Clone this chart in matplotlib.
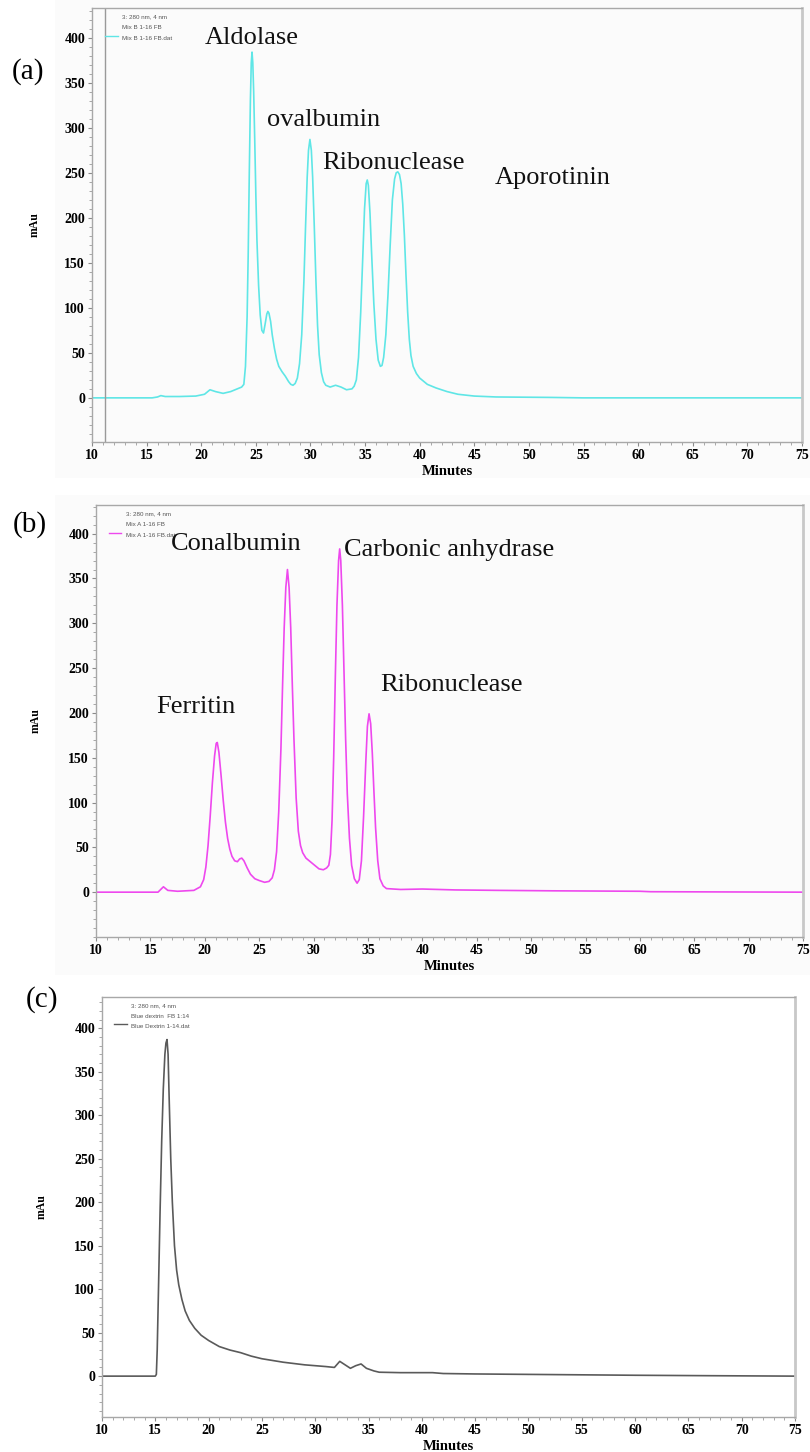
import matplotlib
matplotlib.use("Agg")
import matplotlib.pyplot as plt
from matplotlib.ticker import MultipleLocator
from matplotlib.patches import Rectangle

# ── Chromatogram traces (minutes, mAU) ────────────────────────────
mix_b_t = [10, 15.5, 16.0, 16.3, 16.7, 18.0, 19.5, 20.3, 20.8, 21.3, 22.0, 22.7,
           23.3, 23.7, 23.9, 24.05, 24.2, 24.3, 24.4, 24.5, 24.58, 24.65, 24.72,
           24.8, 24.9, 25.0, 25.1, 25.25, 25.4, 25.55, 25.7, 25.85, 26.0, 26.1,
           26.2, 26.35, 26.5, 26.7, 26.9, 27.1, 27.4, 27.7, 28.0, 28.2, 28.4,
           28.6, 28.8, 29.0, 29.2, 29.4, 29.55, 29.7, 29.82, 29.95, 30.08, 30.2,
           30.35, 30.5, 30.65, 30.8, 31.0, 31.2, 31.4, 31.8, 32.3, 32.8, 33.3,
           33.8, 34.0, 34.2, 34.4, 34.6, 34.8, 34.95, 35.1, 35.2, 35.3, 35.45,
           35.6, 35.8, 36.0, 36.2, 36.4, 36.55, 36.7, 36.9, 37.1, 37.3, 37.5,
           37.7, 37.85, 38.0, 38.15, 38.3, 38.45, 38.6, 38.75, 38.9, 39.05, 39.2,
           39.4, 39.7, 40.0, 40.7, 41.5, 42.5, 43.5, 45.0, 47.0, 52.0, 55.0, 75.0]
mix_b_mau = [0, 0, 1, 2.5, 1.5, 1.5, 2, 4, 9, 7, 5, 7,
             10, 12, 15, 35, 90, 160, 250, 330, 372, 384, 372,
             340, 285, 225, 175, 125, 92, 75, 72, 82, 93, 96,
             94, 85, 70, 55, 43, 35, 29, 24, 18, 15, 14,
             16, 22, 38, 70, 130, 190, 245, 275, 287, 275, 245,
             190, 130, 80, 48, 28, 18, 14, 12, 14, 12, 9,
             10, 13, 20, 45, 95, 160, 210, 238, 242, 236, 205,
             160, 105, 65, 42, 35, 36, 45, 70, 115, 170, 220,
             243, 250, 251, 248, 238, 215, 180, 135, 95, 65, 47,
             35, 27, 22, 15, 11, 7, 4, 2, 1, 0.5, 0, 0]

mix_a_t = [10, 15.7, 16.2, 16.6, 17.5, 19.0, 19.6, 19.9, 20.1, 20.3, 20.5, 20.7,
           20.9, 21.05, 21.15, 21.3, 21.5, 21.7, 21.9, 22.1, 22.3, 22.5, 22.75,
           23.0, 23.2, 23.4, 23.6, 23.9, 24.2, 24.6, 25.0, 25.5, 25.9, 26.2,
           26.4, 26.6, 26.8, 27.0, 27.15, 27.3, 27.45, 27.6, 27.75, 27.9, 28.05,
           28.2, 28.4, 28.6, 28.8, 29.0, 29.3, 29.7, 30.1, 30.5, 30.9, 31.2,
           31.4, 31.55, 31.7, 31.85, 32.0, 32.15, 32.3, 32.4, 32.5, 32.65, 32.8,
           32.95, 33.1, 33.3, 33.5, 33.75, 34.0, 34.2, 34.4, 34.6, 34.8, 34.95,
           35.1, 35.25, 35.4, 35.55, 35.7, 35.9, 36.1, 36.4, 36.7, 38.0, 40.0,
           43.0, 47.0, 52.0, 60.0, 61.0, 75.0]
mix_a_mau = [0, 0, 6, 2, 1, 2, 6, 14, 28, 52, 85, 122,
             152, 166, 167, 156, 130, 102, 78, 60, 48, 40, 35,
             34, 37, 38, 35, 27, 20, 15, 13, 11, 12, 16,
             25, 45, 90, 160, 230, 295, 340, 360, 340, 295, 230,
             170, 105, 68, 52, 44, 38, 34, 30, 26, 25, 27,
             30, 42, 80, 150, 240, 320, 370, 383, 370, 320, 245,
             170, 110, 60, 30, 15, 10, 14, 35, 85, 145, 185,
             199, 188, 155, 112, 72, 35, 15, 7, 4, 3, 3.5,
             2.5, 2, 1.5, 1, 0.5, 0]

dextrin_t = [10, 15.0, 15.1, 15.18, 15.3, 15.45, 15.6, 15.75, 15.9, 16.0, 16.1,
             16.2, 16.3, 16.45, 16.6, 16.8, 17.0, 17.2, 17.5, 17.8, 18.2, 18.7,
             19.3, 20.0, 21.0, 22.0, 23.0, 24.0, 25.0, 26.0, 27.0, 28.0, 29.0,
             30.0, 31.0, 31.8, 32.3, 32.8, 33.3, 33.8, 34.3, 34.8, 35.5, 36.0,
             38.0, 41.0, 42.0, 45.0, 50.0, 55.0, 60.0, 67.0, 75.0]
dextrin_mau = [0, 0, 2, 30, 100, 190, 270, 330, 370, 383, 387,
               370, 320, 250, 200, 150, 122, 105, 88, 75, 64, 55,
               47, 41, 34, 30, 27, 23, 20, 18, 16, 14.5, 13,
               12, 11, 10, 17, 13, 9, 12, 14, 9, 6, 4.5,
               4, 4, 3, 2.5, 2, 1.5, 1, 0.5, 0]

x_ticks = list(range(10, 80, 5))
y_ticks = [0, 50, 100, 150, 200, 250, 300, 350, 400]

panels = [
    dict(tag="(a)", t=mix_b_t, y=mix_b_mau, color="#5fe6e6",
         rect=[0.1136, 0.6956, 0.8765, 0.2989], ylim=(-49, 433),
         legend=["3: 280 nm, 4 nm", "Mix B 1-16 FB", "Mix B 1-16 FB.dat"],
         peaks=[("Aldolase", 24.65, 400), ("ovalbumin", 31.2, 309),
                ("Ribonuclease", 37.6, 261), ("Aporotinin", 52.2, 244)],
         tag_xy=(28, 72), ylab_x=35, marker_t=11.2),
    dict(tag="(b)", t=mix_a_t, y=mix_a_mau, color="#ee48ee",
         rect=[0.1185, 0.3547, 0.8730, 0.2975], ylim=(-50, 432),
         legend=["3: 280 nm, 4 nm", "Mix A 1-16 FB", "Mix A 1-16 FB.dat"],
         peaks=[("Conalbumin", 22.9, 388), ("Carbonic anhydrase", 42.5, 382),
                ("Ribonuclease", 42.7, 231), ("Ferritin", 19.2, 207)],
         tag_xy=(30, 525), ylab_x=36, marker_t=None),
    dict(tag="(c)", t=dextrin_t, y=dextrin_mau, color="#5a5a5a",
         rect=[0.1259, 0.0241, 0.8556, 0.2893], ylim=(-47, 436),
         legend=["3: 280 nm, 4 nm", "Blue dextrin  FB 1:14", "Blue Dextrin 1-14.dat"],
         peaks=[], tag_xy=(42, 1000), ylab_x=42, marker_t=None),
]

W, H = 810, 1452
fig = plt.figure(figsize=(W / 100, H / 100), dpi=100)
serif = "Liberation Serif"

# faint grey backdrop behind the first two traces
for y0, y1 in [(0, 478), (495, 975)]:
    fig.patches.append(Rectangle((55 / W, 1 - y1 / H), (W - 55) / W, (y1 - y0) / H,
                                 transform=fig.transFigure, facecolor="#fbfbfb",
                                 edgecolor="none", zorder=-5))

for p in panels:
    ax = fig.add_axes(p["rect"])
    ax.set_facecolor("none")
    ax.plot(p["t"], p["y"], color=p["color"], lw=1.2, solid_joinstyle="round")
    if p["marker_t"] is not None:
        ax.axvline(p["marker_t"], color="#9a9a9a", lw=1.0)

    ax.set_xlim(10, 75)
    ax.set_ylim(*p["ylim"])
    ax.set_xticks(x_ticks)
    ax.set_yticks(y_ticks)
    ax.xaxis.set_minor_locator(MultipleLocator(1))
    ax.yaxis.set_minor_locator(MultipleLocator(10))
    ax.tick_params(which="major", length=3, width=0.8, color="#8a8a8a", pad=2)
    ax.tick_params(which="minor", length=2, width=0.6, color="#9a9a9a")
    for lab in ax.get_xticklabels() + ax.get_yticklabels():
        lab.set_fontfamily(serif)
        lab.set_fontweight("bold")
        lab.set_fontsize(10)
    for s in ax.spines.values():
        s.set_color("#a8a8a8")
        s.set_linewidth(1.0)
    ax.spines["right"].set_linewidth(2.0)
    ax.spines["right"].set_color("#c8c8c8")

    ax.set_xlabel("Minutes", fontfamily=serif, fontweight="bold", fontsize=10.5, labelpad=2)

    # instrument legend in the top-left corner
    ax.plot([0.018, 0.036], [0.935, 0.935], transform=ax.transAxes,
            color=p["color"], lw=1.0)
    for i, line in enumerate(p["legend"]):
        ax.text(0.042, 0.985 - i * 0.025, line, transform=ax.transAxes,
                fontsize=4.5, color="#555555", va="top", ha="left",
                fontfamily="Liberation Sans")

    for name, tx, ty in p["peaks"]:
        ax.text(tx, ty, name, ha="center", va="center", fontsize=19,
                fontfamily=serif, color="#111111")

    fig.text(p["tag_xy"][0] / W, 1 - p["tag_xy"][1] / H, p["tag"],
             fontsize=21, fontfamily=serif, ha="center", va="center")
    ymid = p["rect"][1] + p["rect"][3] * 0.5
    fig.text(p["ylab_x"] / W, ymid, "mAu", rotation=90, fontsize=8.5,
             fontweight="bold", fontfamily=serif, ha="center", va="center")

fig.savefig("out.png", dpi=100)
